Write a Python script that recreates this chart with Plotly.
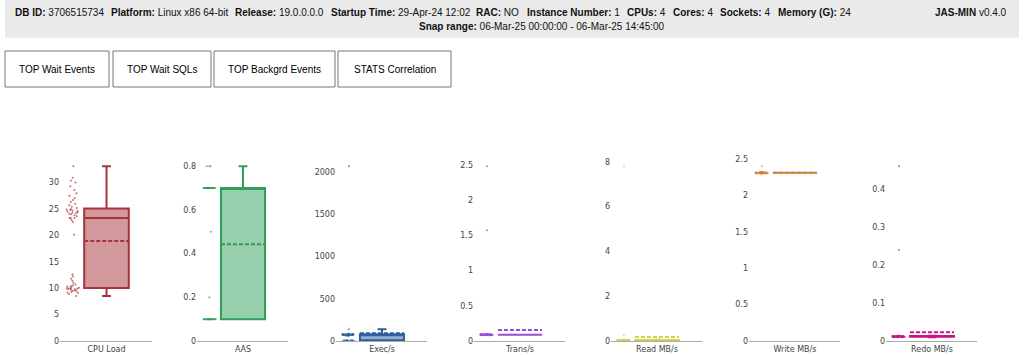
import plotly.graph_objects as go

# ---------------- data ----------------
labels = ["CPU Load", "AAS", "Exec/s", "Trans/s", "Read MB/s", "Write MB/s", "Redo MB/s"]
colors = ["#a83238", "#2f9e5a", "#2f5f9e", "#9b4ad8", "#d2d24e", "#cd853f", "#c71585"]
y_dticks = [5, 0.2, 500, 0.5, 2, 0.5, 0.1]

cpu_load = [10.0, 9.8, 9.4, 8.5, 9.1, 10.1, 10.4, 9.9, 9.6, 11.0, 12.2, 10.3, 9.2, 8.9,
            9.7, 10.5, 11.8, 9.3, 10.0, 9.8, 11.4, 12.6, 10.2, 9.5, 9.9, 10.7, 20.1,
            22.6, 24.3, 25.0, 23.3, 24.8, 26.3, 24.1, 27.5, 23.8, 25.2, 24.6, 29.3, 22.9,
            24.4, 30.4, 25.7, 23.3, 24.9, 28.0, 24.0, 26.7, 30.9, 24.5, 23.6, 27.1, 24.2,
            28.6, 25.4, 24.7, 23.3, 26.0, 30.0, 33.1]
aas = [0.1] * 25 + [0.2, 0.5] + [0.7] * 30 + [0.8] * 3
exec_s = [2.1, 3.5, 4.2, 1.8, 5.6, 6.3, 3.0, 7.1, 2.7, 4.8, 8.2, 5.1, 3.9, 6.8, 2.4, 7.6,
          62, 71, 75, 78, 80, 68, 74, 77, 81, 83, 79, 72, 66, 85, 76, 73, 70, 82, 78, 75,
          64, 69, 80, 84, 77, 74, 71, 79, 81, 76, 58, 67, 73, 78, 82, 75, 70, 77, 80, 86,
          72, 74, 140, 2070]
trans_s = [0.09, 0.09, 0.08, 0.09, 0.1, 0.09, 0.09, 0.08, 0.09, 0.1, 0.09, 0.09, 0.09, 0.1,
           0.09, 0.08, 0.09, 0.09, 0.1, 0.09, 0.09, 0.09, 0.08, 0.09, 0.1, 0.09, 0.09, 0.09,
           0.1, 0.09, 0.09, 0.08, 0.09, 0.09, 0.1, 0.09, 0.09, 0.09, 0.1, 0.09, 0.08, 0.09,
           0.09, 0.1, 0.09, 0.09, 0.09, 0.08, 0.09, 0.1, 0.09, 0.09, 0.09, 0.1, 0.09, 0.09,
           0.08, 0.09, 1.57, 2.48]
read_mb = [0.03, 0.04, 0.05, 0.03, 0.04, 0.06, 0.05, 0.04, 0.03, 0.05, 0.04, 0.04, 0.05, 0.06,
           0.03, 0.04, 0.05, 0.04, 0.05, 0.03, 0.04, 0.06, 0.05, 0.04, 0.04, 0.05, 0.03, 0.04,
           0.05, 0.06, 0.04, 0.05, 0.04, 0.03, 0.05, 0.04, 0.06, 0.05, 0.04, 0.04, 0.05, 0.03,
           0.04, 0.05, 0.04, 0.06, 0.05, 0.04, 0.03, 0.05, 0.04, 0.04, 0.05, 0.06, 0.04, 0.05,
           0.04, 0.03, 0.27, 7.8]
write_mb = [2.31, 2.31, 2.3, 2.31, 2.32, 2.31, 2.31, 2.3, 2.31, 2.32, 2.31, 2.31, 2.31, 2.3,
            2.31, 2.32, 2.31, 2.31, 2.31, 2.3, 2.31, 2.32, 2.31, 2.31, 2.31, 2.3, 2.31, 2.31,
            2.32, 2.31, 2.31, 2.3, 2.31, 2.31, 2.32, 2.31, 2.31, 2.31, 2.3, 2.31, 2.32, 2.31,
            2.31, 2.31, 2.3, 2.31, 2.31, 2.32, 2.31, 2.31, 2.3, 2.31, 2.31, 2.32, 2.31, 2.31,
            2.3, 2.31, 2.31, 2.4]
redo_mb = [0.011, 0.012, 0.01, 0.013, 0.012, 0.011, 0.014, 0.012, 0.01, 0.013, 0.012, 0.011,
           0.012, 0.013, 0.011, 0.012, 0.014, 0.01, 0.012, 0.013, 0.011, 0.012, 0.012, 0.013,
           0.011, 0.01, 0.012, 0.014, 0.012, 0.011, 0.013, 0.012, 0.011, 0.012, 0.013, 0.01,
           0.012, 0.011, 0.014, 0.012, 0.013, 0.011, 0.012, 0.012, 0.01, 0.013, 0.011, 0.012,
           0.014, 0.012, 0.011, 0.013, 0.012, 0.01, 0.012, 0.011, 0.013, 0.012, 0.24, 0.46]
series = [cpu_load, aas, exec_s, trans_s, read_mb, write_mb, redo_mb]

header_items = [
    ("DB ID:", "3706515734", 13), ("Platform:", "Linux x86 64-bit", 109),
    ("Release:", "19.0.0.0.0", 233), ("Startup Time:", "29-Apr-24 12:02", 329),
    ("RAC:", "NO", 474), ("Instance Number:", "1", 525), ("CPUs:", "4", 625),
    ("Cores:", "4", 671), ("Sockets:", "4", 718), ("Memory (G):", "24", 776),
    ("JAS-MIN", "v0.4.0", 933),
]
snap_label = ("Snap range:", "06-Mar-25 00:00:00 - 06-Mar-25 14:45:00", 417)
buttons = [("TOP Wait Events", 5, 109), ("TOP Wait SQLs", 113, 211),
           ("TOP Backgrd Events", 214, 335), ("STATS Correlation", 338, 451)]

# ---------------- layout helpers ----------------
W, H = 1024, 355
dom_start = [60, 197, 336, 474, 611, 749, 886]
dom_end = [152, 288, 427, 565, 702, 840, 977]
y_bottom, y_top = 341, 157

def rgba(hexc, a):
    h = hexc.lstrip("#")
    r, g, b = int(h[0:2], 16), int(h[2:4], 16), int(h[4:6], 16)
    return f"rgba({r},{g},{b},{a})"

fig = go.Figure()
layout = dict(
    width=W, height=H, margin=dict(l=0, r=0, t=0, b=0),
    paper_bgcolor="white", plot_bgcolor="white", showlegend=False,
    font=dict(family="DejaVu Sans", size=8, color="#444"),
)
for i, (lab, col, vals) in enumerate(zip(labels, colors, series)):
    n = "" if i == 0 else str(i + 1)
    fig.add_trace(go.Box(
        y=vals, x=[lab] * len(vals), name=lab,
        xaxis="x" + n, yaxis="y" + n,
        boxpoints="all", jitter=0.3, pointpos=-1.5, boxmean=True,
        whiskerwidth=0.2,
        line=dict(color=col, width=2), fillcolor=rgba(col, 0.5),
        marker=dict(color=col, size=2, opacity=0.7),
    ))
    layout["xaxis" + n] = dict(
        domain=[dom_start[i] / W, dom_end[i] / W], anchor="y" + n,
        type="category", showline=True, linecolor="#aaa", linewidth=1,
        showgrid=False, zeroline=False, ticks="", automargin=False,
        fixedrange=True,
    )
    layout["yaxis" + n] = dict(
        domain=[(H - y_bottom) / H, (H - y_top) / H], anchor="x" + n,
        rangemode="tozero", showline=False, showgrid=False, zeroline=False,
        ticks="", automargin=False, fixedrange=True, dtick=y_dticks[i], tick0=0,
    )
fig.update_layout(**layout)

shapes = [dict(type="rect", xref="paper", yref="paper", x0=5 / W, x1=1019 / W,
               y0=1 - 38 / H, y1=1, fillcolor="#eaeaea", line=dict(width=0), layer="below")]
annots = []
hfont = dict(family="Liberation Sans, Arial", size=10, color="#111")
for lab, val, x in header_items:
    annots.append(dict(text=f"<b>{lab}</b> {val}", x=x / W, y=1 - 13 / H, xref="paper",
                       yref="paper", xanchor="left", yanchor="middle", showarrow=False,
                       font=hfont))
annots.append(dict(text=f"<b>{snap_label[0]}</b> {snap_label[1]}", x=snap_label[2] / W,
                   y=1 - 26 / H, xref="paper", yref="paper", xanchor="left",
                   yanchor="middle", showarrow=False, font=hfont))
for txt, x0, x1 in buttons:
    shapes.append(dict(type="rect", xref="paper", yref="paper", x0=x0 / W, x1=x1 / W,
                       y0=1 - 87 / H, y1=1 - 51 / H, fillcolor="white",
                       line=dict(color="#767676", width=1)))
    annots.append(dict(text=txt, x=(x0 + x1) / 2 / W, y=1 - 70 / H, xref="paper",
                       yref="paper", xanchor="center", yanchor="middle", showarrow=False,
                       font=dict(family="Liberation Sans, Arial", size=10, color="#000")))
fig.update_layout(shapes=shapes, annotations=annots)

fig.write_html("out.html")
